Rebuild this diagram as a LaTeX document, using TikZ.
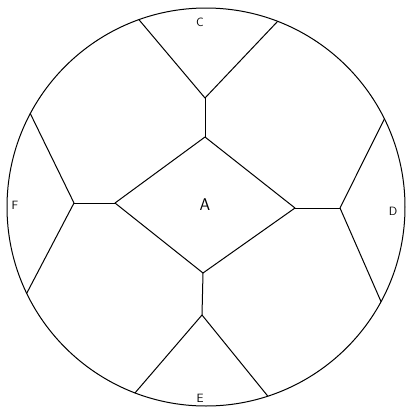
\documentclass[tikz,border=0pt]{standalone}
\usetikzlibrary{calc}
\begin{document}
\begin{tikzpicture}[x=1pt,y=-1pt,line width=1pt,
  edge/.style={draw=black,line cap=round,line join=round},
  lbl/.style={font=\fontsize{12}{14}\selectfont\sffamily,inner sep=0pt},
  biglbl/.style={font=\fontsize{17}{20}\selectfont\sffamily,inner sep=0pt}]
\useasboundingbox (0,0) rectangle (406,413);
\coordinate (O) at (206,207);
\draw[edge] (O) circle (199);
% points on the circle
\coordinate (cl) at ($(O)+(-109.7:199)$);
\coordinate (cr) at ($(O)+(-68.9:199)$);
\coordinate (ft) at ($(O)+(-152.0:199)$);
\coordinate (fb) at ($(O)+(154.3:199)$);
\coordinate (dt) at ($(O)+(-26.3:199)$);
\coordinate (db) at ($(O)+(28.4:199)$);
\coordinate (el) at ($(O)+(110.9:199)$);
\coordinate (er) at ($(O)+(71.9:199)$);
% inner junctions
\coordinate (cj) at (205,98);
\coordinate (at) at (205,137);
\coordinate (al) at (115,203);
\coordinate (fj) at (74,203);
\coordinate (ar) at (295,208);
\coordinate (dj) at (340,208);
\coordinate (ab) at (203,273);
\coordinate (ej) at (202,315);
% edges
\draw[edge] (cl) -- (cj) -- (cr);
\draw[edge] (cj) -- (at);
\draw[edge] (at) -- (ar) -- (ab) -- (al) -- cycle;
\draw[edge] (al) -- (fj);
\draw[edge] (ft) -- (fj) -- (fb);
\draw[edge] (ar) -- (dj);
\draw[edge] (dt) -- (dj) -- (db);
\draw[edge] (ab) -- (ej);
\draw[edge] (el) -- (ej) -- (er);
% labels
\node[biglbl] (A) at (205,205) {A};
\node[lbl] (C) at (200,22) {C};
\node[lbl] (D) at (393,211) {D};
\node[lbl] (E) at (200,398) {E};
\node[lbl] (F) at (15,205) {F};
\end{tikzpicture}
\end{document}
